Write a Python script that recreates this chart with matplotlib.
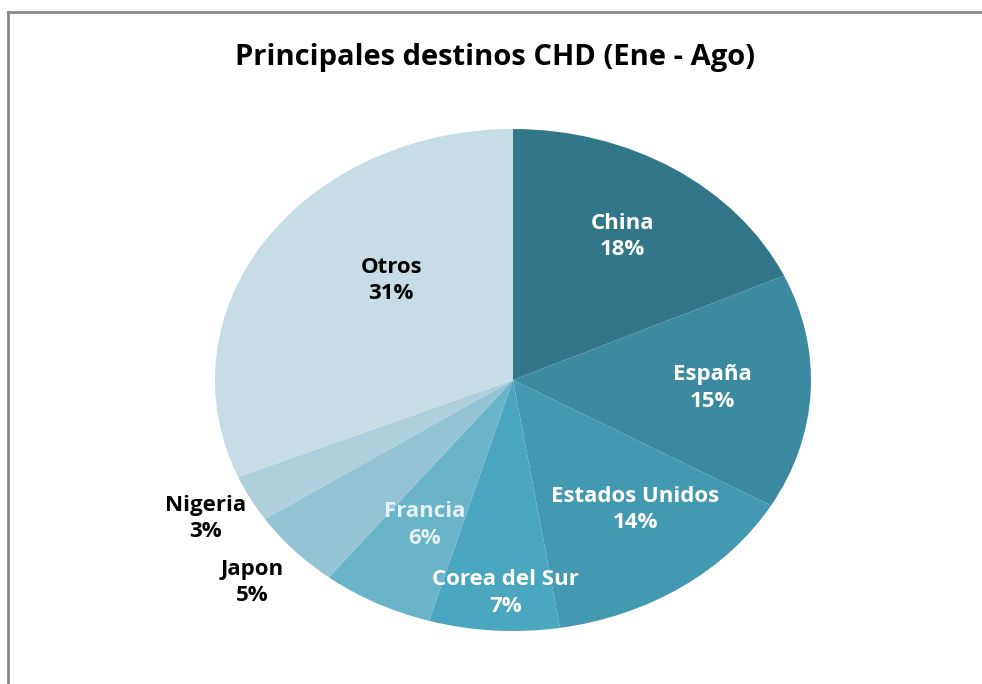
import numpy as np
import matplotlib.pyplot as plt
from matplotlib.lines import Line2D

# Data
paises = ['China', 'España', 'Estados Unidos', 'Corea del Sur', 'Francia', 'Japon', 'Nigeria', 'Otros']
porcentajes = [18, 15, 14, 7, 6, 5, 3, 31]
colores = ['#327689', '#3b8a9f', '#4399af', '#4aa7bf', '#6ab4ca', '#93c3d4', '#aed0dc', '#c6dde5']
color_texto = ['white', 'white', 'white', 'white', '#e4f1f5', 'black', 'black', 'black']
dist_texto = [0.68, 0.67, 0.66, 0.85, 0.65, 1.19, 1.17, 0.57]
giro_texto = [0, 0, 4, 2, 0, 0, 0, -10.5]

plt.rcParams['font.family'] = ['Open Sans', 'DejaVu Sans']

fig = plt.figure(figsize=(9.82, 6.84), dpi=100)

# Chart border (only left and top are visible)
fig.add_artist(Line2D([8 / 982, 8 / 982], [0, 1 - 12 / 684], color='#878787', lw=2))
fig.add_artist(Line2D([8 / 982, 1], [1 - 12 / 684, 1 - 12 / 684], color='#878787', lw=2))

fig.text(495 / 982, 1 - 58 / 684, 'Principales destinos CHD (Ene - Ago)',
         ha='center', va='center', fontsize=21, fontweight='bold', color='black')

# Elliptical pie: axes wider than tall, aspect left free
cx, cy, rx, ry = 513, 380, 298, 251
ax = fig.add_axes([(cx - rx) / 982, (684 - cy - ry) / 684, 2 * rx / 982, 2 * ry / 684])
wedges, _ = ax.pie(porcentajes, colors=colores, startangle=90, counterclock=False,
                   wedgeprops=dict(linewidth=0))
ax.set_xlim(-1, 1)
ax.set_ylim(-1, 1)
ax.set_aspect('auto')
ax.axis('off')

for w, nombre, p, c, d, g in zip(wedges, paises, porcentajes, color_texto, dist_texto, giro_texto):
    ang = np.deg2rad((w.theta1 + w.theta2) / 2 + g)
    ax.text(d * np.cos(ang), d * np.sin(ang), f'{nombre}\n{p}%', ha='center', va='center',
            fontsize=16, fontweight='bold', color=c, linespacing=1.35)

fig.savefig('out.png', dpi=100)
